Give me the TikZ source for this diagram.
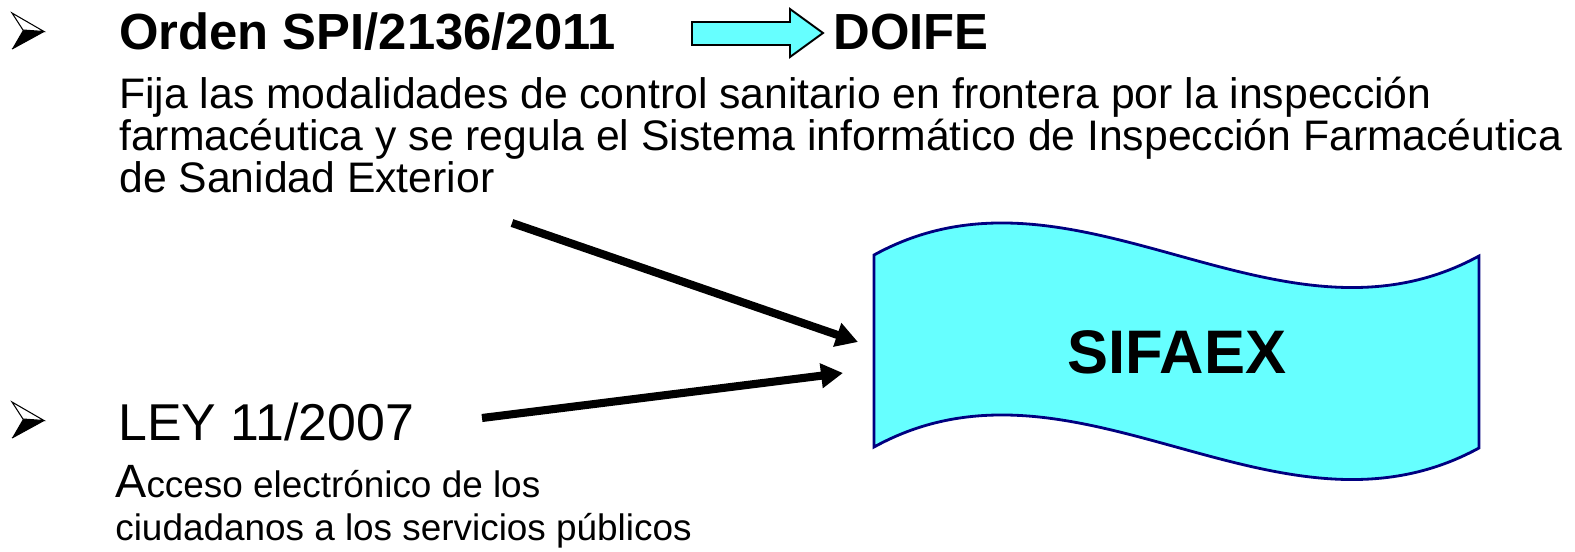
\documentclass[tikz,border=0pt]{standalone}
\usepackage{fontspec}
\setmainfont{Liberation Sans}
\usepackage{xcolor}
\usetikzlibrary{arrows.meta}

\definecolor{sifcyan}{HTML}{66FFFF}
\definecolor{sifnavy}{HTML}{000080}

\tikzset{
  heading/.style={font=\fontsize{28.9}{34}\selectfont\bfseries, inner sep=0pt, anchor=base west},
  lawname/.style={font=\fontsize{29.5}{34}\selectfont, inner sep=0pt, anchor=base west},
  bodytext/.style={font=\fontsize{24.3}{21.8}\selectfont, inner sep=0pt, align=left, anchor=base west},
  smalltext/.style={font=\fontsize{21}{24.4}\selectfont, inner sep=0pt, align=left, anchor=base west},
  link/.style={line width=4.6pt, -{Triangle[length=12.5pt,width=13.5pt]}},
  blockarrow/.style={draw=black, line width=1.1pt, fill=sifcyan, line join=miter},
  wave/.style={draw=sifnavy, line width=1.6pt, fill=sifcyan}
}

\begin{document}
\begin{tikzpicture}[x=0.02cm,y=-0.02cm]
  \useasboundingbox (0,0) rectangle (1575,551);

  \foreach \y in {0,389} {
    \fill[black] (23,30+\y) -- (44,31.5+\y) -- (12,49+\y) -- cycle;
    \draw[line width=0.6pt, fill=white, line join=miter] (12,13+\y) -- (44,31.5+\y) -- (23,30+\y) -- cycle;
    \draw[line width=0.6pt, line join=miter] (44,31.5+\y) -- (12,49+\y);
  }

  \node[heading] (orden) at (119,49.5) {Orden SPI/2136/2011};
  \draw[blockarrow] (692,22) -- (790,22) -- (790,9) -- (823,33) -- (790,57) -- (790,45) -- (692,45) -- cycle;
  \node[heading] (doife) at (833,49.5) {DOIFE};

  \node[bodytext] (fija) at (119,192) {Fija las modalidades de control sanitario en frontera por la inspección\\
    farmacéutica y se regula el Sistema informático de Inspección Farmacéutica\\
    de Sanidad Exterior};

  \node[lawname] (ley) at (118,440) {LEY 11/2007};
  \node[smalltext] (acceso) at (115,540) {{\fontsize{26.6}{24.4}\selectfont A}cceso electrónico de los\\
    ciudadanos a los servicios públicos};

  \draw[wave] (874,255) .. controls (1075.7,144) and (1277.3,366) .. (1479,256)
    -- (1479,448) .. controls (1277.3,558) and (1075.7,336) .. (874,447) -- cycle;
  \node[font=\fontsize{35}{40}\selectfont\bfseries, inner sep=0pt] (sifaex) at (1177,352) {SIFAEX};

  \coordinate (fijafoot) at (512,223);
  \coordinate (leyend) at (482,418);
  \coordinate (sifaexin1) at (858,342);
  \coordinate (sifaexin2) at (843,373);
  \draw[link] (fijafoot) -- (sifaexin1);
  \draw[link] (leyend) -- (sifaexin2);
\end{tikzpicture}
\end{document}
